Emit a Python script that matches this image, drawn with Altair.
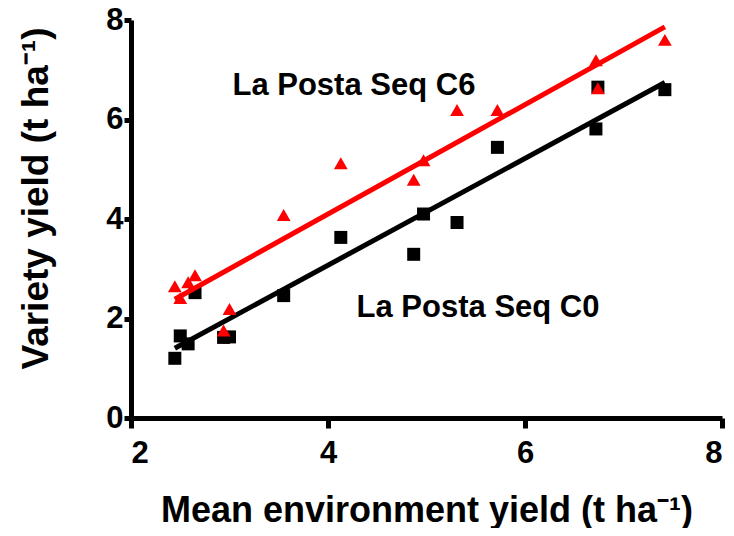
import altair as alt
import pandas as pd

# Mean environment yield (t/ha) for each environment
env_mean = [2.445, 2.50, 2.58, 2.65, 2.94, 3.00, 3.55, 4.13, 4.87, 4.97, 5.31, 5.72, 6.72, 6.74, 7.42]
# Variety yields
seq_c0 = [1.20, 1.65, 1.49, 2.52, 1.62, 1.63, 2.46, 3.63, 3.29, 4.10, 3.93, 5.44, 5.81, 6.65, 6.60]
seq_c6 = [2.65, 2.41, 2.73, 2.87, 1.76, 2.19, 4.08, 5.12, 4.79, 5.18, 6.19, 6.19, 7.19, 6.63, 7.60]

x_ticks = [2, 4, 6, 8]
y_ticks = [0, 2, 4, 6, 8]

ann_text = ["La Posta Seq C6", "La Posta Seq C0"]
ann_x = [3.03, 4.29]
ann_y = [6.49, 2.03]

df_c0 = pd.DataFrame({"x": env_mean, "y": seq_c0})
df_c6 = pd.DataFrame({"x": env_mean, "y": seq_c6})
df_ann = pd.DataFrame({"t": ann_text, "x": ann_x, "y": ann_y})

FONT = "Liberation Sans"

xs = alt.Scale(domain=[2, 8], nice=False, zero=False)
ys = alt.Scale(domain=[0, 8], nice=False)

x_enc = alt.X("x:Q", scale=xs, axis=alt.Axis(
    values=x_ticks, title="Mean environment yield (t ha\u207b\u00b9)",
    titleFontSize=36, titleY=103, titleBaseline="alphabetic",
    labelPadding=10, tickSize=10))
y_enc = alt.Y("y:Q", scale=ys, axis=alt.Axis(
    values=y_ticks, title="Variety yield (t ha\u207b\u00b9)",
    titleFontSize=37, titleX=-84, titleY=178, titleAngle=-90,
    titleBaseline="alphabetic", titleAlign="center",
    labelPadding=1, tickSize=7))

pts_c0 = alt.Chart(df_c0).mark_point(shape="square", filled=True, size=169,
                                       color="black", opacity=1).encode(x=x_enc, y=y_enc)
line_c0 = alt.Chart(df_c0).transform_regression("x", "y").mark_line(
    color="black", strokeWidth=5).encode(x=x_enc, y=y_enc)
pts_c6 = alt.Chart(df_c6).mark_point(shape="triangle-up", filled=True, size=190,
                                       color="#ff0000", opacity=1).encode(x=x_enc, y=y_enc)
line_c6 = alt.Chart(df_c6).transform_regression("x", "y").mark_line(
    color="#ff0000", strokeWidth=5).encode(x=x_enc, y=y_enc)
ann = alt.Chart(df_ann).mark_text(align="left", baseline="alphabetic", font=FONT,
                                   fontWeight="bold", fontSize=31, color="black").encode(
    x=x_enc, y=y_enc, text="t:N")

chart = alt.layer(pts_c0, line_c0, pts_c6, line_c6, ann).properties(
    width=591, height=398,
    autosize=alt.AutoSizeParams(type="none"),
    padding={"left": 123, "top": 12, "right": 4, "bottom": 110},
).configure_view(stroke=None).configure_axis(
    grid=False, domainColor="black", domainWidth=5, tickColor="black", tickWidth=5,
    labelFont=FONT, labelFontWeight="bold", labelFontSize=31, labelColor="black",
    titleFont=FONT, titleFontWeight="bold", titleColor="black",
)

chart.save("out.html", embed_options={"renderer": "svg", "actions": False})
